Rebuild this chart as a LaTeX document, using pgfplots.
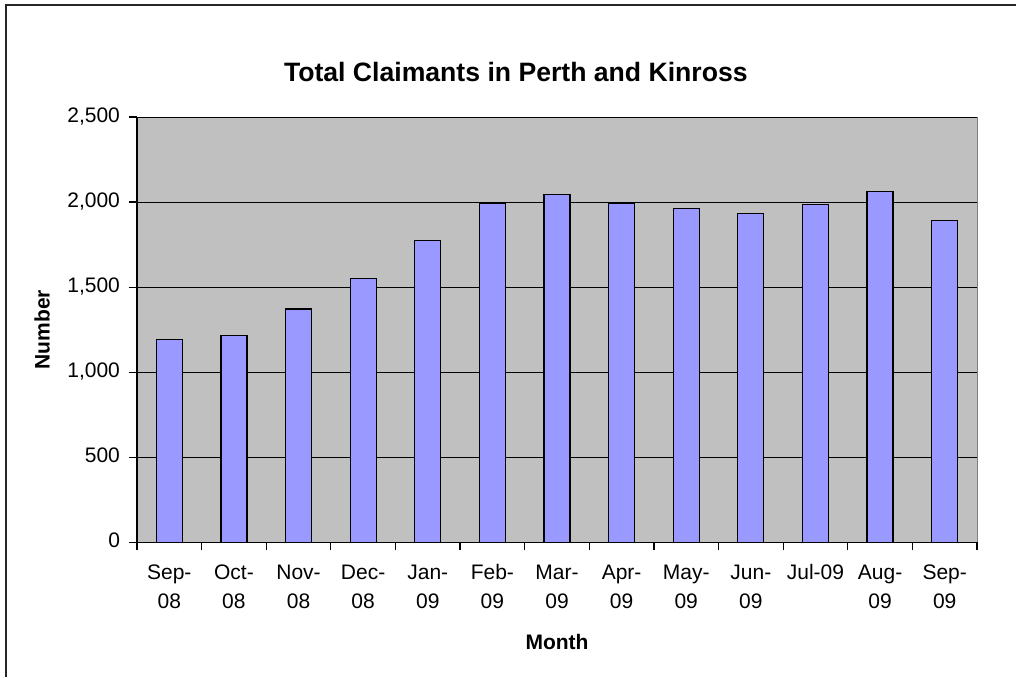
\documentclass[border=0pt]{standalone}
\usepackage{fontspec}
\setmainfont{Liberation Sans}
\usepackage{pgfplots}
\pgfplotsset{compat=1.18}
\definecolor{plotbg}{HTML}{C0C0C0}
\definecolor{barfill}{HTML}{9999FF}
\begin{document}
\begin{tikzpicture}
\useasboundingbox (0pt,0pt) rectangle (508pt,338.5pt);
\draw[line width=1pt, black!85] (3pt,0pt) -- (3pt,336pt) -- (508pt,336pt);
\begin{axis}[
  at={(68.5pt,67.35pt)}, anchor=south west,
  scale only axis, width=420pt, height=212.65pt,
  xmin=-0.5, xmax=12.5, ymin=0, ymax=2500,
  ybar, bar width=13pt,
  axis background/.style={fill=plotbg, draw=gray},
  axis x line*=bottom, axis y line*=left,
  axis line style={black, line width=0.6pt},
  xtick={0,...,12},
  xticklabels={{Sep-\\08},{Oct-\\08},{Nov-\\08},{Dec-\\08},{Jan-\\09},{Feb-\\09},{Mar-\\09},{Apr-\\09},{May-\\09},{Jun-\\09},{Jul-09},{Aug-\\09},{Sep-\\09}},
  typeset ticklabels with strut,
  minor xtick={-0.5,0.5,...,12.5},
  major x tick style={draw=none},
  minor x tick style={black, line width=0.6pt},
  minor tick length=4pt,
  major tick length=4pt,
  y tick style={black, line width=0.6pt},
  tick align=outside,
  xticklabel style={align=center, font=\fontsize{10.5}{14.5}\selectfont, yshift=-1pt, anchor=north},
  ytick={0,500,1000,1500,2000,2500},
  yticklabel style={font=\fontsize{10.5}{14}\selectfont, xshift=-1pt},
  /pgf/number format/.cd, 1000 sep={,}, assume math mode=true,
  /pgfplots/.cd,
  ymajorgrids, grid style={black, line width=0.5pt},
  title={Total Claimants in Perth and Kinross},
  title style={at={(axis description cs:0.451,1.078)}, anchor=center, font=\fontsize{13.3}{16}\selectfont\bfseries},
  xlabel={Month},
  xlabel style={at={(axis description cs:0.5,-0.235)}, anchor=center, font=\fontsize{10.5}{14}\selectfont\bfseries},
  ylabel={Number},
  ylabel style={at={(axis description cs:-0.113,0.5)}, anchor=center, font=\fontsize{10.5}{14}\selectfont\bfseries},
]
\addplot[fill=barfill, draw=black, line width=0.6pt] coordinates {
(0,1194) (1,1215) (2,1372) (3,1549) (4,1776) (5,1994) (6,2043)
(7,1994) (8,1962) (9,1935) (10,1984) (11,2061) (12,1894)};
\end{axis}
\end{tikzpicture}
\end{document}
